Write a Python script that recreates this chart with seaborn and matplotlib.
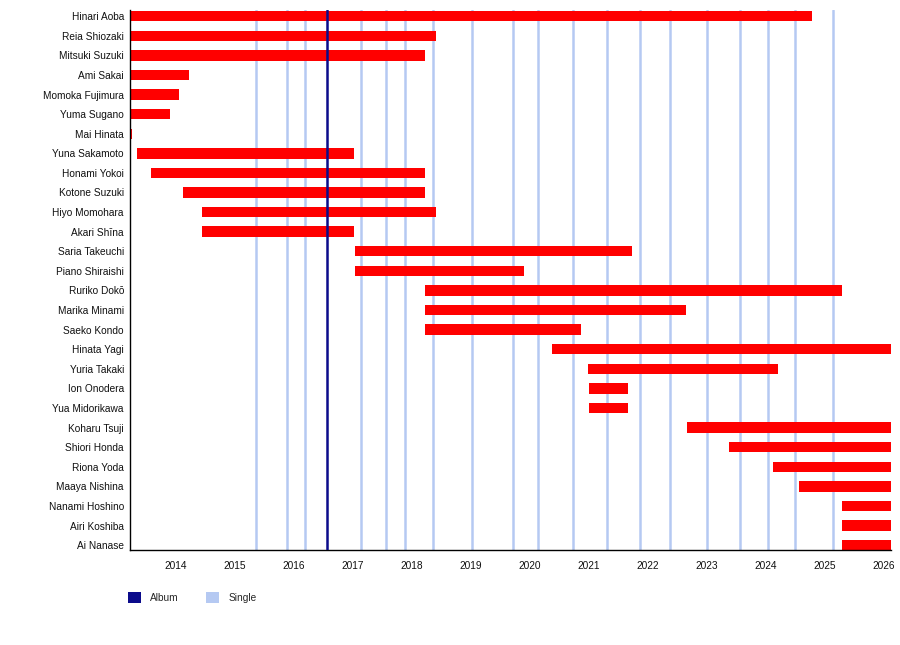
import pandas as pd
import matplotlib.pyplot as plt
import matplotlib.dates as mdates
from matplotlib.patches import Patch
import seaborn as sns


PERIOD_START = "2013-03-25"
PERIOD_END = "2026-02-17"

members = [
    "Hinari Aoba", "Reia Shiozaki", "Mitsuki Suzuki", "Ami Sakai", "Momoka Fujimura",
    "Yuma Sugano", "Mai Hinata", "Yuna Sakamoto", "Honami Yokoi", "Kotone Suzuki",
    "Hiyo Momohara", "Akari Shīna", "Saria Takeuchi", "Piano Shiraishi", "Ruriko Dokō",
    "Marika Minami", "Saeko Kondo", "Hinata Yagi", "Yuria Takaki", "Ion Onodera",
    "Yua Midorikawa", "Koharu Tsuji", "Shiori Honda", "Riona Yoda", "Maaya Nishina",
    "Nanami Hoshino", "Airi Koshiba", "Ai Nanase",
]
start_dates = [
    "2013-03-25", "2013-03-25", "2013-03-25", "2013-03-25", "2013-03-25",
    "2013-03-25", "2013-03-25", "2013-05-08", "2013-08-04", "2014-02-17",
    "2014-06-14", "2014-06-14", "2017-01-19", "2017-01-19", "2018-03-25",
    "2018-03-25", "2018-03-25", "2020-05-19", "2021-01-01", "2021-01-05",
    "2021-01-05", "2022-09-02", "2023-05-22", "2024-02-17", "2024-07-27",
    "2025-04-20", "2025-04-20", "2025-04-20",
]
end_dates = [
    "2024-10-15", "2018-06-03", "2018-03-25", "2014-03-25", "2014-01-22",
    "2013-11-28", "2013-04-05", "2017-01-11", "2018-03-25", "2018-03-25",
    "2018-06-03", "2017-01-11", "2021-09-27", "2019-11-28", "2025-04-20",
    "2022-08-28", "2020-11-17", "2026-02-17", "2024-03-21", "2021-09-02",
    "2021-09-02", "2026-02-17", "2026-02-17", "2026-02-17", "2026-02-17",
    "2026-02-17", "2026-02-17", "2026-02-17",
]
album_dates = ["2016-07-24"]
single_dates = [
    "2015-05-12", "2015-11-24", "2016-03-14", "2017-02-21", "2017-07-27",
    "2017-11-24", "2018-05-16", "2019-01-12", "2019-09-24", "2020-02-21",
    "2020-09-24", "2021-04-23", "2021-11-18", "2022-05-22", "2023-01-05",
    "2023-07-31", "2024-01-19", "2024-07-05", "2025-02-21",
]
year_ticks = list(range(2014, 2027))

BAR_COLOR = "#ff0000"
ALBUM_COLOR = "#0b0b8b"
SINGLE_COLOR = "#b5c9f2"
FONT_SIZE = 7.3

sns.set_theme(style="white")
plt.rcParams["font.family"] = ["Liberation Sans", "DejaVu Sans"]

df = pd.DataFrame({
    "member": members,
    "start": pd.to_datetime(start_dates),
    "end": pd.to_datetime(end_dates),
})
df["row"] = range(len(df))
df["start_num"] = mdates.date2num(df["start"])
df["width"] = mdates.date2num(df["end"]) - df["start_num"]

fig = plt.figure(figsize=(9, 6.45), dpi=100)
ax = fig.add_axes([0.1444, 0.1473, 0.99 - 0.1444, 0.9845 - 0.1473])

# singles behind the bars
for d in single_dates:
    ax.axvline(mdates.date2num(pd.Timestamp(d)), color=SINGLE_COLOR, lw=1.8, zorder=1)

ax.barh(df["row"], df["width"], left=df["start_num"], height=0.53,
        color=BAR_COLOR, linewidth=0, zorder=2)

# album line over the bars
for d in album_dates:
    ax.axvline(mdates.date2num(pd.Timestamp(d)), color=ALBUM_COLOR, lw=1.8, zorder=3)

ax.set_xlim(mdates.date2num(pd.Timestamp(PERIOD_START)),
            mdates.date2num(pd.Timestamp(PERIOD_END)))
ax.set_ylim(27.25, -0.316)

ax.set_yticks(df["row"])
ax.set_yticklabels(df["member"], fontsize=FONT_SIZE, color="#111111")
ax.tick_params(axis="y", length=0, pad=4.3)

ax.set_xticks([mdates.date2num(pd.Timestamp(f"{y}-01-01")) for y in year_ticks])
ax.set_xticklabels([str(y) for y in year_ticks], fontsize=FONT_SIZE, color="#111111")
ax.tick_params(axis="x", length=3.5, width=0.8, color="black", pad=4.5, direction="out")

sns.despine(ax=ax, top=True, right=True)
for side in ["left", "bottom"]:
    ax.spines[side].set_color("black")
    ax.spines[side].set_linewidth(1.0)
ax.grid(False)

handles = [Patch(facecolor=ALBUM_COLOR, edgecolor="none", label="Album"),
           Patch(facecolor=SINGLE_COLOR, edgecolor="none", label="Single")]
fig.legend(handles=handles, loc="upper left", bbox_to_anchor=(0.142, 0.0827),
           ncol=2, frameon=False, fontsize=FONT_SIZE, handlelength=1.3,
           handleheight=1.4, handletextpad=0.9, columnspacing=2.7,
           borderaxespad=0, borderpad=0)

fig.savefig("out.png", dpi=100, facecolor="white")
